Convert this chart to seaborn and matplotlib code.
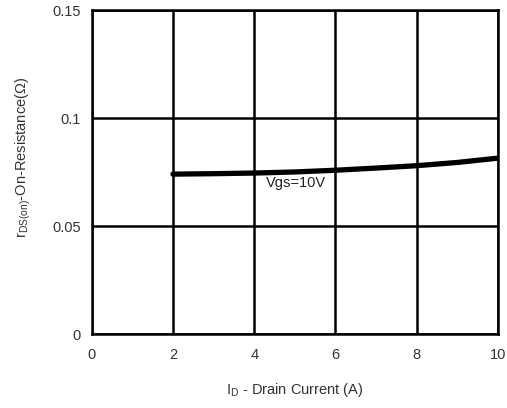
import matplotlib
matplotlib.use("Agg")
import matplotlib.pyplot as plt
import seaborn as sns
import pandas as pd

drain_current = [2, 3, 4, 5, 6, 7, 8, 9, 10]
on_resistance = [0.0741, 0.0743, 0.0746, 0.0751, 0.0759, 0.0769, 0.0780, 0.0795, 0.0815]
x_ticks = [0, 2, 4, 6, 8, 10]
y_ticks = [0, 0.05, 0.1, 0.15]
y_tick_labels = ["0", "0.05", "0.1", "0.15"]
curve_label = "Vgs=10V"

sns.set_style("white")
plt.rcParams['font.family'] = ['Liberation Sans', 'DejaVu Sans']

fig = plt.figure(figsize=(5.07, 4.08), dpi=100)
ax = fig.add_axes([0.181, 0.181, 0.801, 0.794])

df = pd.DataFrame({"ID": drain_current, "R": on_resistance})
sns.lineplot(data=df, x="ID", y="R", ax=ax, color="black", linewidth=3.8, zorder=3)

ax.set_xlim(0, 10)
ax.set_ylim(0, 0.15)
ax.set_xticks(x_ticks)
ax.set_xticklabels([str(t) for t in x_ticks])
ax.set_yticks(y_ticks)
ax.set_yticklabels(y_tick_labels)
ax.grid(True, color="black", linewidth=1.8, zorder=1)
ax.set_axisbelow(True)
for s in ax.spines.values():
    s.set_color("black")
    s.set_linewidth(1.8)
ax.tick_params(axis="both", length=0, labelsize=10.5, colors="#333333")
ax.tick_params(axis="x", pad=10)
ax.tick_params(axis="y", pad=8)

ax.text(4.3, 0.0700, curve_label, fontsize=10.5, color="#222222", va="center", ha="left")

ax.set_xlabel(r"I$_{\mathregular{D}}$ - Drain Current (A)", fontsize=10.5, color="#333333", labelpad=14)
ax.set_ylabel(r"r$_{\mathregular{DS(on)}}$-On-Resistance(Ω)", fontsize=10.5, color="#333333")
ax.yaxis.set_label_coords(-0.145, 0.545)

fig.savefig("out.png", dpi=100, facecolor="white")
